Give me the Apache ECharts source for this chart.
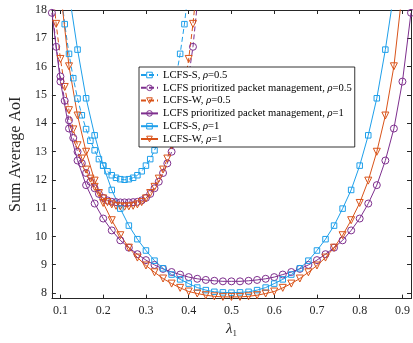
<!DOCTYPE html>
<html><head><meta charset="utf-8">
<script src="https://cdn.jsdelivr.net/npm/echarts@6/dist/echarts.min.js"></script>
<style>html,body{margin:0;padding:0;background:#fff}#c{width:413px;height:343px}</style>
</head><body><div id="c"></div>
<script>
// x grids
const xRho1 = [0.08,0.10,0.12,0.14,0.16,0.18,0.20,0.22,0.24,0.26,0.28,0.30,0.32,0.34,0.36,0.38,0.40,0.42,0.44,0.46,0.48,0.50,0.52,0.54,0.56,0.58,0.60,0.62,0.64,0.66,0.68,0.70,0.72,0.74,0.76,0.78,0.80,0.82,0.84,0.86,0.88,0.90,0.92];
const xRho05 = [0.08,0.09,0.10,0.11,0.12,0.13,0.14,0.15,0.16,0.17,0.18,0.19,0.20,0.21,0.22,0.23,0.24,0.25,0.26,0.27,0.28,0.29,0.30,0.31,0.32,0.33,0.34,0.35,0.36,0.37,0.38,0.39,0.40,0.41,0.42];

// rho = 0.5 series (dashed)
const sRho05 = [null,null,18.8,17.5,16.45,15.59,14.87,14.28,13.79,13.38,13.04,12.73,12.5,12.3,12.16,12.07,12.02,12.0,12.02,12.07,12.16,12.3,12.5,12.73,13.04,13.38,13.79,14.28,14.87,15.59,16.45,17.5,18.8,null,null];
const pRho05 = [18.2,16.7,15.65,14.79,14.1,13.48,12.99,12.58,12.24,11.93,11.7,11.5,11.36,11.27,11.22,11.21,11.2,11.2,11.2,11.21,11.22,11.27,11.36,11.5,11.7,11.93,12.24,12.58,12.99,13.48,14.1,14.79,15.65,16.7,18.2];
const wRho05 = [19.0,17.51,16.27,15.28,14.46,13.78,13.22,12.75,12.36,12.04,11.75,11.53,11.34,11.21,11.13,11.08,11.06,11.05,11.06,11.08,11.13,11.21,11.34,11.53,11.75,12.04,12.36,12.75,13.22,13.78,14.46,15.28,16.27,17.51,19.0];

// rho = 1 series (solid)
const pRho1 = [17.9,15.47,13.81,12.68,11.81,11.16,10.63,10.21,9.86,9.6,9.37,9.16,8.99,8.85,8.74,8.65,8.56,8.5,8.46,8.43,8.41,8.41,8.41,8.43,8.46,8.5,8.56,8.65,8.74,8.85,8.99,9.16,9.37,9.6,9.86,10.21,10.63,11.16,11.81,12.68,13.81,15.47,17.9];
const sRho1 = [null,null,18.6,16.6,14.88,13.57,12.5,11.64,10.98,10.38,9.9,9.5,9.14,8.87,8.65,8.48,8.33,8.19,8.10,8.04,8.02,8.01,8.02,8.04,8.10,8.19,8.33,8.48,8.65,8.87,9.14,9.5,9.9,10.38,10.98,11.64,12.5,13.57,14.88,16.6,18.6,null,null];
const wRho1 = [null,18.7,16.01,14.27,12.99,11.97,11.18,10.57,10.04,9.6,9.25,8.97,8.73,8.51,8.33,8.18,8.05,7.98,7.92,7.88,7.86,7.86,7.86,7.88,7.92,7.98,8.05,8.18,8.33,8.51,8.73,8.97,9.25,9.6,10.04,10.57,11.18,11.97,12.99,14.27,16.01,18.7,null];

const xTicks = [0.1,0.2,0.3,0.4,0.5,0.6,0.7,0.8,0.9];
const yTicks = [8,9,10,11,12,13,14,15,16,17,18];

const C_S = '#1e9fea', C_P = '#7e2f8e', C_W = '#d95319';
const FONT = 'Liberation Serif';

function pairs(xs, ys){ const out=[]; xs.forEach((x,i)=>{ if(ys[i]!=null) out.push([x, ys[i]]); }); return out; }

function mk(name, xs, ys, color, sym, size, dashed, rot){
  return {
    name, type:'line', data: pairs(xs, ys), smooth:false,
    symbol: sym, symbolSize: size, symbolRotate: rot||0, showAllSymbol:true,
    lineStyle:{color, width:1, type: dashed ? [5,3] : 'solid'},
    itemStyle:{color:'rgba(255,255,255,0)', borderColor:color, borderWidth:1},
    emphasis:{disabled:true}, animation:false, clip:true
  };
}

const axisCommon = {
  axisLine:{show:true, onZero:false, lineStyle:{color:'#262626', width:1}},
  splitLine:{show:false}
};

const chart = echarts.init(document.getElementById('c'), null, {renderer:'canvas'});
chart.setOption({
  backgroundColor:'#fff',
  animation:false,
  grid:{left:39, right:2, top:10, bottom:34.5, containLabel:false},
  xAxis:[
    Object.assign({type:'value', min:0.08, max:0.92, position:'bottom',
      name:'{a|λ}{b|1}', nameLocation:'middle', nameGap:17,
      nameTextStyle:{rich:{a:{fontFamily:FONT, fontSize:15, fontStyle:'italic', color:'#262626'}, b:{fontFamily:FONT, fontSize:9, color:'#262626', padding:[9,0,0,0]}}},
      axisTick:{show:true, inside:true, length:4, customValues:xTicks, lineStyle:{color:'#262626'}},
      axisLabel:{show:true, customValues:xTicks, margin:6, fontFamily:FONT, fontSize:12, color:'#262626', formatter:v=>v.toFixed(1)}
    }, axisCommon),
    Object.assign({type:'value', min:0.08, max:0.92, position:'top',
      axisTick:{show:true, inside:true, length:4, customValues:xTicks, lineStyle:{color:'#262626'}},
      axisLabel:{show:false}
    }, axisCommon)
  ],
  yAxis:[
    Object.assign({type:'value', min:7.8, max:18, position:'left',
      name:'Sum Average AoI', nameLocation:'middle', nameGap:19,
      nameTextStyle:{fontFamily:FONT, fontSize:16, color:'#262626'},
      axisTick:{show:true, inside:true, length:4, customValues:yTicks, lineStyle:{color:'#262626'}},
      axisLabel:{show:true, customValues:yTicks, margin:5, fontFamily:FONT, fontSize:12, color:'#262626'}
    }, axisCommon),
    Object.assign({type:'value', min:7.8, max:18, position:'right',
      axisTick:{show:true, inside:true, length:4, customValues:yTicks, lineStyle:{color:'#262626'}},
      axisLabel:{show:false}
    }, axisCommon)
  ],
  legend:{
    orient:'vertical', left:139, top:67,
    backgroundColor:'#fff', borderColor:'#000', borderWidth:0.8,
    padding:[2,3,2,1], itemGap:0.8, itemWidth:17, itemHeight:7,
    itemStyle:{color:'rgba(255,255,255,0)', borderWidth:1},
    textStyle:{fontFamily:FONT, fontSize:10.6, color:'#000', lineHeight:12,
      rich:{n:{fontFamily:FONT, fontSize:10.6, color:'#000'}, r:{fontFamily:FONT, fontSize:10.6, fontStyle:'italic', color:'#000'}}},
    formatter: function(name){
      const m = name.split('ρ');
      return '{n|' + m[0] + '}{r|ρ}{n|' + m[1] + '}';
    },
    data:['LCFS-S, ρ=0.5','LCFS prioritized packet management, ρ=0.5','LCFS-W, ρ=0.5','LCFS prioritized packet management, ρ=1','LCFS-S, ρ=1','LCFS-W, ρ=1']
  },
  series:[
    mk('LCFS-S, ρ=0.5', xRho05, sRho05, C_S, 'rect', 5.5, true),
    mk('LCFS prioritized packet management, ρ=0.5', xRho05, pRho05, C_P, 'circle', 7, true),
    mk('LCFS-W, ρ=0.5', xRho05, wRho05, C_W, 'triangle', 7, true, 180),
    mk('LCFS prioritized packet management, ρ=1', xRho1, pRho1, C_P, 'circle', 7, false),
    mk('LCFS-S, ρ=1', xRho1, sRho1, C_S, 'rect', 5.5, false),
    mk('LCFS-W, ρ=1', xRho1, wRho1, C_W, 'triangle', 7, false, 180)
  ]
});
</script></body></html>
